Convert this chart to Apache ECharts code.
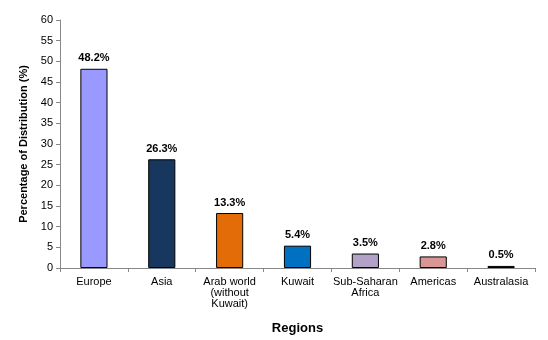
<!DOCTYPE html>
<html>
<head>
<meta charset="utf-8">
<script src="https://cdn.jsdelivr.net/npm/echarts@6/dist/echarts.min.js"></script>
<style>
  html, body { margin: 0; padding: 0; background: #fff; }
  #chart { width: 548px; height: 340px; }
</style>
</head>
<body>
<div id="chart"></div>
<script>
// Share of distribution by region (%)
const categories = ['Europe', 'Asia', 'Arab world\n(without\nKuwait)', 'Kuwait', 'Sub-Saharan\nAfrica', 'Americas', 'Australasia'];
const values = [48.2, 26.3, 13.3, 5.4, 3.5, 2.8, 0.5];
const barColors = ['#9999FF', '#17375E', '#E36C09', '#0070C0', '#B3A2C7', '#D99694', '#77933C'];
const yTicks = [0, 5, 10, 15, 20, 25, 30, 35, 40, 45, 50, 55, 60];

const chart = echarts.init(document.getElementById('chart'), null, { renderer: 'canvas' });
const font = 'Liberation Sans, Arial, sans-serif';

chart.setOption({
  animation: false,
  grid: { left: 60, right: 13, top: 20, bottom: 72 },
  xAxis: {
    type: 'category',
    data: categories,
    name: 'Regions',
    nameLocation: 'middle',
    nameGap: 54,
    nameTextStyle: { fontFamily: font, fontSize: 13, fontWeight: 'bold', color: '#000' },
    axisLine: { lineStyle: { color: '#888', width: 1 } },
    axisTick: { show: true, length: 4, lineStyle: { color: '#888' } },
    axisLabel: { fontFamily: font, fontSize: 11, color: '#000', margin: 8, lineHeight: 11, interval: 0 }
  },
  yAxis: {
    type: 'value',
    min: yTicks[0],
    max: yTicks[yTicks.length - 1],
    interval: 5,
    name: 'Percentage of Distribution (%)',
    nameLocation: 'middle',
    nameGap: 29,
    nameRotate: 90,
    nameTextStyle: { fontFamily: font, fontSize: 11, fontWeight: 'bold', color: '#000' },
    axisLine: { show: true, lineStyle: { color: '#888', width: 1 } },
    axisTick: { show: true, length: 4, lineStyle: { color: '#888' } },
    splitLine: { show: false },
    axisLabel: { fontFamily: font, fontSize: 11, color: '#000', margin: 7 }
  },
  series: [{
    type: 'bar',
    data: values.map((v, i) => ({ value: v, itemStyle: { color: barColors[i] } })),
    barWidth: '40%',
    itemStyle: { borderColor: '#000', borderWidth: 1 },
    label: {
      show: true,
      position: 'top',
      distance: 5,
      formatter: p => p.value.toFixed(1) + '%',
      fontFamily: font,
      fontSize: 11,
      fontWeight: 'bold',
      color: '#000'
    }
  }]
});
</script>
</body>
</html>
